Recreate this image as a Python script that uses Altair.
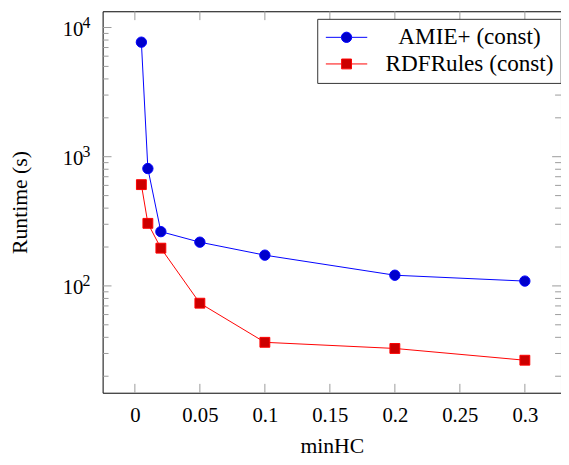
import altair as alt
import pandas as pd

# ---- data ----
minhc = [0.005, 0.01, 0.02, 0.05, 0.1, 0.2, 0.3]
amie = [7700, 810, 263, 218, 173, 121, 109]
rdfrules = [608, 305, 196, 73.5, 36.6, 32.8, 26.6]
series_names = ["AMIE+ (const)", "RDFRules (const)"]

x_ticks = [0, 0.05, 0.1, 0.15, 0.2, 0.25, 0.3]
y_major = [100, 1000, 10000]
y_exponents = ["2", "3", "4"]
y_minor = [20, 30, 40, 50, 60, 70, 80, 90,
           200, 300, 400, 500, 600, 700, 800, 900,
           2000, 3000, 4000, 5000, 6000, 7000, 8000, 9000]

line_colors = ["#0000ff", "#ff0000"]
mark_fills = ["#0000cc", "#cc0000"]

# ---- layout / style ----
W, H = 465, 387
FONT = "Liberation Serif"
TICK_GRAY = "#9a9a9a"
MAJOR_LEN, MINOR_LEN = 9, 6

df = pd.DataFrame({
    "minHC": minhc * 2,
    "runtime": amie + rdfrules,
    "series": [series_names[0]] * len(minhc) + [series_names[1]] * len(minhc),
})
xt = pd.DataFrame({"minHC": x_ticks})
ymaj = pd.DataFrame({"runtime": y_major, "exp": y_exponents})
ymin = pd.DataFrame({"runtime": y_minor})

xs = alt.Scale(domain=[-0.0248, 0.3278], nice=False, zero=False)
ys = alt.Scale(type="log", domain=[14.9, 13360], nice=False)

x_axis = alt.Axis(values=x_ticks, format="~g", ticks=False, domain=False, grid=False,
                  labelFont=FONT, labelFontSize=21, labelColor="black", labelPadding=12,
                  titleFont=FONT, titleFontSize=22, titleFontWeight="normal", titleColor="black",
                  titleY=54, titleBaseline="middle")
y_axis = alt.Axis(values=y_major, labelExpr="'10'", ticks=False, domain=False, grid=False,
                  labelFont=FONT, labelFontSize=21, labelColor="black", labelPadding=20,
                  labelOffset=2,
                  titleFont=FONT, titleFontSize=22, titleFontWeight="normal", titleColor="black",
                  titleX=-84, titleY=H / 2, titleBaseline="middle")

# legend symbols: a 42px line with the marker in its middle (path unit = 10.3px)
circle_path = ("M-2.039,0L-0.51,0M0.51,0L2.039,0"
               "M-0.51,0A0.51,0.51,0,1,1,0.51,0A0.51,0.51,0,1,1,-0.51,0Z")
square_path = ("M-2.039,0L-0.485,0M0.485,0L2.039,0"
               "M-0.485,-0.485L0.485,-0.485L0.485,0.485L-0.485,0.485Z")

legend = alt.Legend(
    title=None, orient="none", legendX=217.7, legendY=7.7,
    strokeColor="#333333", fillColor="white", padding=7,
    symbolSize=424, symbolOffset=11, symbolStrokeWidth=1,
    labelFont=FONT, labelFontSize=23.5, labelColor="black", labelAlign="center",
    labelOffset=113, labelLimit=400, rowPadding=2,
)

base = alt.Chart(df)
amie_df = base.transform_filter(alt.datum.series == series_names[0])
rdf_df = base.transform_filter(alt.datum.series == series_names[1])

line_amie = amie_df.mark_line(strokeWidth=1, color=line_colors[0]).encode(
    x=alt.X("minHC:Q", scale=xs, axis=x_axis, title="minHC"),
    y=alt.Y("runtime:Q", scale=ys, axis=y_axis, title="Runtime (s)"),
)
line_rdf = rdf_df.mark_line(strokeWidth=1, color=line_colors[1]).encode(
    x=alt.X("minHC:Q", scale=xs), y=alt.Y("runtime:Q", scale=ys))

pts_amie = amie_df.mark_point(
    shape="circle", filled=True, size=110, strokeWidth=1, opacity=1,
    fill=mark_fills[0], stroke=line_colors[0]).encode(
    x=alt.X("minHC:Q", scale=xs), y=alt.Y("runtime:Q", scale=ys))
pts_rdf = rdf_df.mark_point(
    shape="square", filled=True, size=100, strokeWidth=1, opacity=1,
    fill=mark_fills[1], stroke=line_colors[1]).encode(
    x=alt.X("minHC:Q", scale=xs), y=alt.Y("runtime:Q", scale=ys))

# legend-only layer: its own symbols are parked outside the clipped plot area
legend_layer = base.mark_point(filled=True, opacity=1, clip=True).encode(
    x=alt.value(-400), y=alt.value(-400),
    shape=alt.Shape("series:N", scale=alt.Scale(domain=series_names, range=[circle_path, square_path]),
                    legend=legend),
    fill=alt.Fill("series:N", scale=alt.Scale(domain=series_names, range=mark_fills), legend=legend),
    stroke=alt.Stroke("series:N", scale=alt.Scale(domain=series_names, range=line_colors), legend=legend),
)

xtick_bottom = alt.Chart(xt).mark_rule(color=TICK_GRAY, strokeWidth=1).encode(
    x=alt.X("minHC:Q", scale=xs), y=alt.value(H), y2=alt.value(H - MAJOR_LEN))
xtick_top = alt.Chart(xt).mark_rule(color=TICK_GRAY, strokeWidth=1).encode(
    x=alt.X("minHC:Q", scale=xs), y=alt.value(0), y2=alt.value(MAJOR_LEN))

ymaj_left = alt.Chart(ymaj).mark_rule(color=TICK_GRAY, strokeWidth=1).encode(
    y=alt.Y("runtime:Q", scale=ys), x=alt.value(0), x2=alt.value(MAJOR_LEN))
ymaj_right = alt.Chart(ymaj).mark_rule(color=TICK_GRAY, strokeWidth=1).encode(
    y=alt.Y("runtime:Q", scale=ys), x=alt.value(W), x2=alt.value(W - MAJOR_LEN))
ymin_left = alt.Chart(ymin).mark_rule(color=TICK_GRAY, strokeWidth=1).encode(
    y=alt.Y("runtime:Q", scale=ys), x=alt.value(0), x2=alt.value(MINOR_LEN))
ymin_right = alt.Chart(ymin).mark_rule(color=TICK_GRAY, strokeWidth=1).encode(
    y=alt.Y("runtime:Q", scale=ys), x=alt.value(W), x2=alt.value(W - MINOR_LEN))

exps = alt.Chart(ymaj).mark_text(align="left", baseline="middle", font=FONT, fontSize=16,
                                 color="black", dy=-5).encode(
    y=alt.Y("runtime:Q", scale=ys), x=alt.value(-20.5), text="exp:N")

chart = alt.layer(
    xtick_bottom, xtick_top, ymin_left, ymin_right, ymaj_left, ymaj_right,
    line_amie, line_rdf, pts_amie, pts_rdf, exps, legend_layer,
).properties(
    width=W, height=H, autosize="none",
    padding={"left": 96, "top": 0, "right": 0, "bottom": 70},
).configure_view(stroke="black", strokeWidth=1)

chart.save("out.html", embed_options={"renderer": "svg", "actions": False})
